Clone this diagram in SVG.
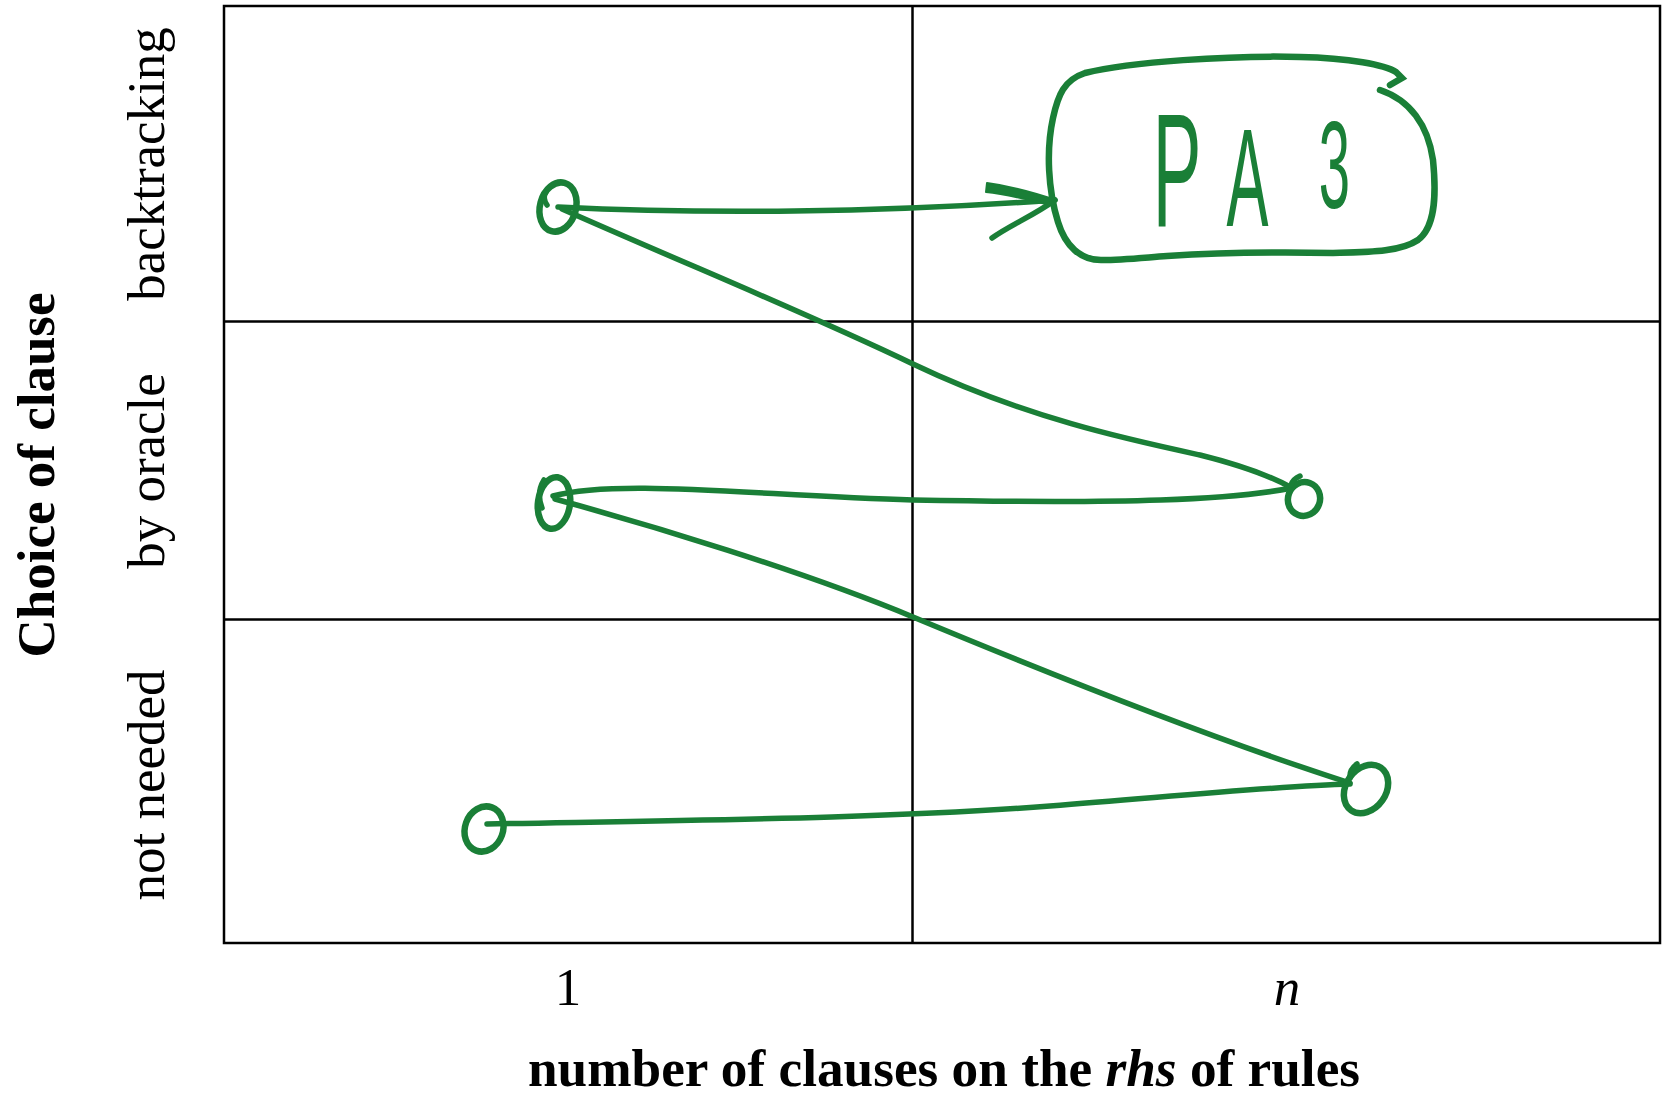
<svg xmlns="http://www.w3.org/2000/svg" width="1662" height="1094" viewBox="0 0 1662 1094">
<style>
.grid{fill:none;stroke:#000;stroke-width:2.5}
.lab{font-family:"Liberation Serif","Times New Roman",serif;font-size:53px;fill:#000}
.title{font-family:"Liberation Serif","Times New Roman",serif;font-size:53px;font-weight:bold;fill:#000}
.ink{fill:none;stroke:#1a7f37;stroke-width:5.5;stroke-linecap:round;stroke-linejoin:round}
.node{fill:none;stroke:#1a7f37;stroke-width:6.5;stroke-linecap:round}
.hand{font-family:"Liberation Sans",Arial,sans-serif;font-size:140px;fill:#1a7f37}
</style>
<rect x="0" y="0" width="1662" height="1094" fill="#fff"/>
<g id="grid">
<rect class="grid" x="224" y="6" width="1436" height="937"/>
<line class="grid" x1="912.5" y1="6" x2="912.5" y2="943"/>
<line class="grid" x1="224" y1="321.5" x2="1660" y2="321.5"/>
<line class="grid" x1="224" y1="619.5" x2="1660" y2="619.5"/>
</g>
<g id="labels">
<text class="title" transform="translate(54,475) rotate(-90)" text-anchor="middle">Choice of clause</text>
<text class="lab" transform="translate(164,164) rotate(-90)" text-anchor="middle">backtracking</text>
<text class="lab" transform="translate(164,471) rotate(-90)" text-anchor="middle">by oracle</text>
<text class="lab" transform="translate(164,785) rotate(-90)" text-anchor="middle">not needed</text>
<text class="lab" x="568" y="1005" text-anchor="middle">1</text>
<text class="lab" x="1287" y="1005" text-anchor="middle" font-style="italic">n</text>
<text class="title" x="944" y="1086" text-anchor="middle" textLength="832" lengthAdjust="spacingAndGlyphs">number of clauses on the <tspan font-style="italic">rhs</tspan> of rules</text>
</g>
<g id="connectors">
<path class="ink" d="M558,207 C700,214 880,213 1055,200"/>
<path class="ink" d="M1055,200 C1035,215 1010,225 992,238"/>
<path d="M987,183 C1010,186 1035,193 1056,200 L1046,204 C1030,200 1005,194 986,192 Z" fill="#1a7f37" stroke="#1a7f37" stroke-width="2" stroke-linejoin="round"/>
<path class="ink" d="M562,209 C700,270 800,310 913,364 S1130,440 1200,455 Q1260,470 1292,488"/>
<path class="ink" d="M1292,488 C1230,500 1130,504 913,500 C760,496 620,478 553,496"/>
<path class="ink" d="M555,499 C650,525 800,570 913,617 S1200,735 1350,783"/>
<path class="ink" d="M487,824 C700,820 900,818 1050,806 S1280,786 1350,784"/>
</g>
<g id="node-bt-1">
<ellipse class="node" cx="558" cy="207" rx="18" ry="25" transform="rotate(15 558 207)"/>
<path class="ink" d="M546,192 Q542,198 547,205" stroke-width="3"/>
</g>
<g id="node-or-1">
<ellipse class="node" cx="554" cy="503" rx="16" ry="26" transform="rotate(8 554 503)"/>
<path class="ink" d="M544,480 Q536,493 542,508" stroke-width="3"/>
</g>
<g id="node-nn-1">
<ellipse class="node" cx="484" cy="829" rx="19" ry="23" transform="rotate(20 484 829)"/>
</g>
<g id="node-or-n">
<ellipse class="node" cx="1304" cy="499" rx="16" ry="17" transform="rotate(20 1304 499)"/>
<path class="ink" d="M1300,476 Q1293,479 1291,485" stroke-width="3"/>
</g>
<g id="node-nn-n">
<ellipse class="node" cx="1366" cy="789" rx="20" ry="26" transform="rotate(35 1366 789)"/>
<path class="ink" d="M1357,764 Q1349,770 1350,778" stroke-width="3"/>
</g>
<g id="node-pa3">
<path class="node" d="M1380,90 C1410,100 1428,125 1433,160 C1437,200 1434,228 1418,240 C1400,252 1370,252 1333,253 C1280,252 1230,252 1167,256 C1140,258 1120,260 1103,260 C1080,261 1065,245 1058,222 C1048,190 1046,150 1053,118 C1058,95 1064,80 1085,73 C1130,62 1230,55 1300,57 C1350,58 1385,65 1396,72 L1402,78 L1390,85"/>
<g transform="translate(1150,226) scale(0.45,1)">
<text class="hand"><tspan x="6" font-size="162">P</tspan><tspan x="170" y="0">A</tspan><tspan x="375" y="-18" font-size="125">3</tspan></text>
</g>
</g>
</svg>
